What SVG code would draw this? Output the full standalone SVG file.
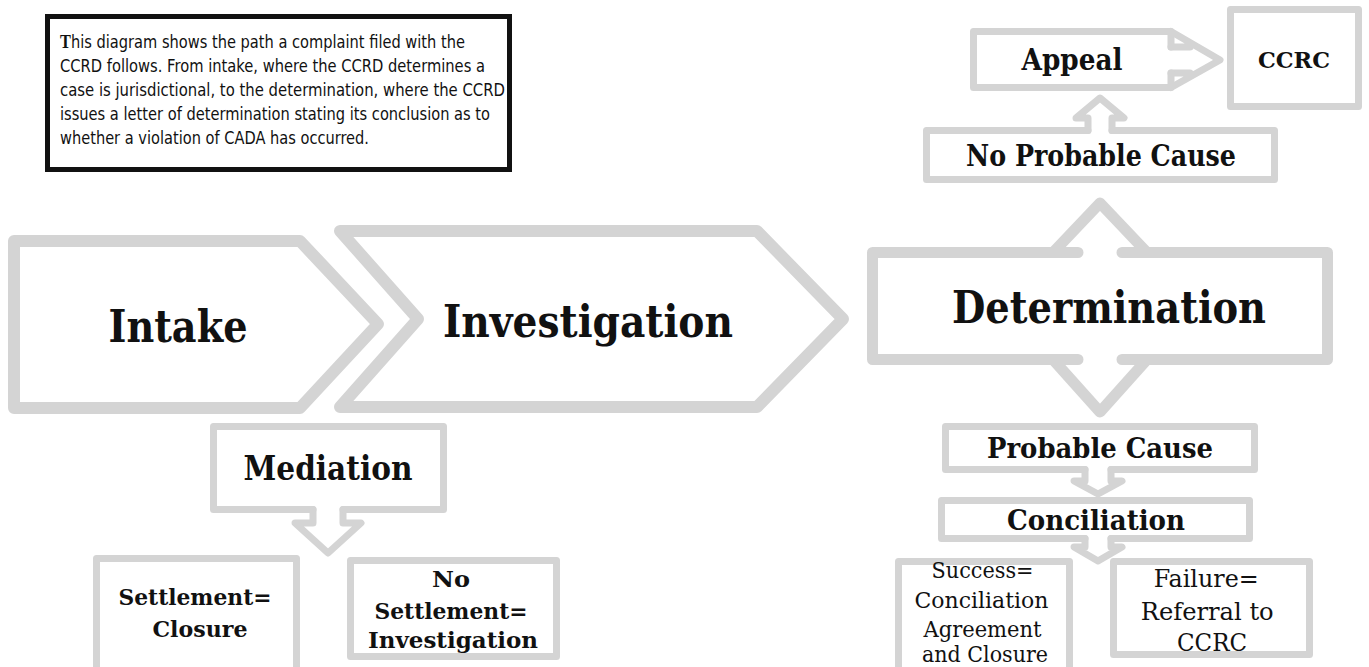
<svg xmlns="http://www.w3.org/2000/svg" width="1369" height="667" viewBox="0 0 1369 667">
<style>
  .chev{fill:#fff;stroke:#d4d4d4;stroke-width:12;stroke-linejoin:round}
  .big{fill:none;stroke:#d4d4d4;stroke-width:11;stroke-linejoin:round;stroke-linecap:round}
  .box{fill:#fff;stroke:#d4d4d4;stroke-width:7;stroke-linejoin:round}
  .ln{fill:none;stroke:#d4d4d4;stroke-width:7;stroke-linejoin:round;stroke-linecap:round}
  .lbl{font-family:"DejaVu Serif","Liberation Serif",serif;font-weight:bold;fill:#111;text-anchor:middle}
  .reg{font-family:"DejaVu Serif","Liberation Serif",serif;font-weight:normal;fill:#111;text-anchor:middle}
  .desc{font-family:"DejaVu Sans","Liberation Sans",sans-serif;font-size:17px;fill:#111}
</style>
<rect width="1369" height="667" fill="#fff"/>

<g id="description">
  <rect x="47.5" y="16.5" width="462" height="153" fill="#fff" stroke="#111" stroke-width="5"/>
  <text class="desc" x="60" y="48" textLength="405" lengthAdjust="spacingAndGlyphs"><tspan font-weight="bold" font-family="Liberation Serif, serif" font-size="19">T</tspan>his diagram shows the path a complaint filed with the</text>
  <text class="desc" x="60" y="72" textLength="425" lengthAdjust="spacingAndGlyphs">CCRD follows. From intake, where the CCRD determines a</text>
  <text class="desc" x="60" y="96" textLength="445" lengthAdjust="spacingAndGlyphs">case is jurisdictional, to the determination, where the CCRD</text>
  <text class="desc" x="60" y="120" textLength="430" lengthAdjust="spacingAndGlyphs">issues a letter of determination stating its conclusion as to</text>
  <text class="desc" x="60" y="144" textLength="309" lengthAdjust="spacingAndGlyphs">whether a violation of CADA has occurred.</text>
</g>

<g id="intake">
  <polygon class="chev" points="14,241 300,241 378,324 300,408 14,408"/>
  <text class="lbl" x="178" y="342" font-size="44" textLength="139" lengthAdjust="spacingAndGlyphs">Intake</text>
</g>

<g id="investigation">
  <polygon class="chev" points="340,231 757,231 843,319 757,407 340,407 418,319"/>
  <text class="lbl" x="588" y="337" font-size="44" textLength="290" lengthAdjust="spacingAndGlyphs">Investigation</text>
</g>

<g id="connectors">
  <path class="big" d="M1053 252.5 L1100 203 L1147 252.5"/>
  <path class="big" d="M1053 359.5 L1100 412 L1147 359.5"/>
  <path class="ln" d="M1088 130.5 V118 H1076 L1100 98 L1124 118 H1112 V130.5"/>
  <path class="ln" d="M1171 31.5 L1220 60 L1171 87.5 M1171 47 H1190 M1171 73 H1190"/>
  <path class="ln" d="M1085 469.5 V481 H1074 L1098 494 L1122 481 H1111 V469.5"/>
  <path class="ln" d="M1085 538.5 V547 H1074 L1098 561 L1122 547 H1111 V538.5"/>
  <path class="ln" d="M313 509.5 V523 H295 L328 553 L361 523 H343 V509.5"/>
</g>

<g id="determination">
  <rect x="872.5" y="252.5" width="455" height="107" fill="#fff"/>
  <path class="big" d="M1078 252.5 H872.5 V359.5 H1078 M1122 359.5 H1327.5 V252.5 H1122"/>
  <text class="lbl" x="1109" y="323" font-size="45" textLength="314" lengthAdjust="spacingAndGlyphs">Determination</text>
</g>

<g id="no-probable-cause">
  <path class="ln" d="M1088 130.5 H926.5 V179.5 H1274.5 V130.5 H1112"/>
  <text class="lbl" x="1101" y="166" font-size="29" textLength="270" lengthAdjust="spacingAndGlyphs">No Probable Cause</text>
</g>

<g id="appeal">
  <path class="ln" d="M1171 47 V31.5 H973.5 V87.5 H1171 V73"/>
  <text class="lbl" x="1072" y="70" font-size="30" textLength="101" lengthAdjust="spacingAndGlyphs">Appeal</text>
</g>

<g id="ccrc">
  <rect class="box" x="1230.5" y="9.5" width="128" height="97"/>
  <text class="lbl" x="1294" y="68" font-size="22" textLength="72" lengthAdjust="spacingAndGlyphs">CCRC</text>
</g>

<g id="probable-cause">
  <path class="ln" d="M1085 469.5 H945.5 V426.5 H1254.5 V469.5 H1111"/>
  <text class="lbl" x="1100" y="458" font-size="28" textLength="226" lengthAdjust="spacingAndGlyphs">Probable Cause</text>
</g>

<g id="conciliation">
  <path class="ln" d="M1085 538.5 H941.5 V500.5 H1249.5 V538.5 H1111"/>
  <text class="lbl" x="1096" y="530" font-size="28" textLength="178" lengthAdjust="spacingAndGlyphs">Conciliation</text>
</g>

<g id="success">
  <rect class="box" x="898.5" y="561.5" width="171" height="110"/>
  <text class="reg" font-size="22">
    <tspan x="986" y="578" textLength="102" lengthAdjust="spacingAndGlyphs">Success=</tspan>
    <tspan x="985" y="608" textLength="134" lengthAdjust="spacingAndGlyphs">Conciliation</tspan>
    <tspan x="986" y="637" textLength="118" lengthAdjust="spacingAndGlyphs">Agreement</tspan>
    <tspan x="985" y="662" textLength="126" lengthAdjust="spacingAndGlyphs">and Closure</tspan>
  </text>
</g>

<g id="failure">
  <rect class="box" x="1113.5" y="561.5" width="196" height="93"/>
  <text class="reg" font-size="24">
    <tspan x="1210" y="587" textLength="105" lengthAdjust="spacingAndGlyphs">Failure=</tspan>
    <tspan x="1211" y="620" textLength="133" lengthAdjust="spacingAndGlyphs">Referral to</tspan>
    <tspan x="1212" y="651" textLength="70" lengthAdjust="spacingAndGlyphs">CCRC</tspan>
  </text>
</g>

<g id="mediation">
  <path class="ln" d="M313 509.5 H213.5 V426.5 H443.5 V509.5 H343"/>
  <text class="lbl" x="328" y="480" font-size="34" textLength="169" lengthAdjust="spacingAndGlyphs">Mediation</text>
</g>

<g id="settlement">
  <rect class="box" x="96.5" y="558.5" width="200" height="112"/>
  <text class="lbl" font-size="23">
    <tspan x="199" y="605" textLength="153" lengthAdjust="spacingAndGlyphs">Settlement=</tspan>
    <tspan x="200" y="637" textLength="95" lengthAdjust="spacingAndGlyphs">Closure</tspan>
  </text>
</g>

<g id="no-settlement">
  <rect class="box" x="350.5" y="560.5" width="206" height="96"/>
  <text class="lbl" font-size="23">
    <tspan x="455" y="587" textLength="38" lengthAdjust="spacingAndGlyphs">No</tspan>
    <tspan x="455" y="619" textLength="153" lengthAdjust="spacingAndGlyphs">Settlement=</tspan>
    <tspan x="453" y="648" textLength="170" lengthAdjust="spacingAndGlyphs">Investigation</tspan>
  </text>
</g>
</svg>
